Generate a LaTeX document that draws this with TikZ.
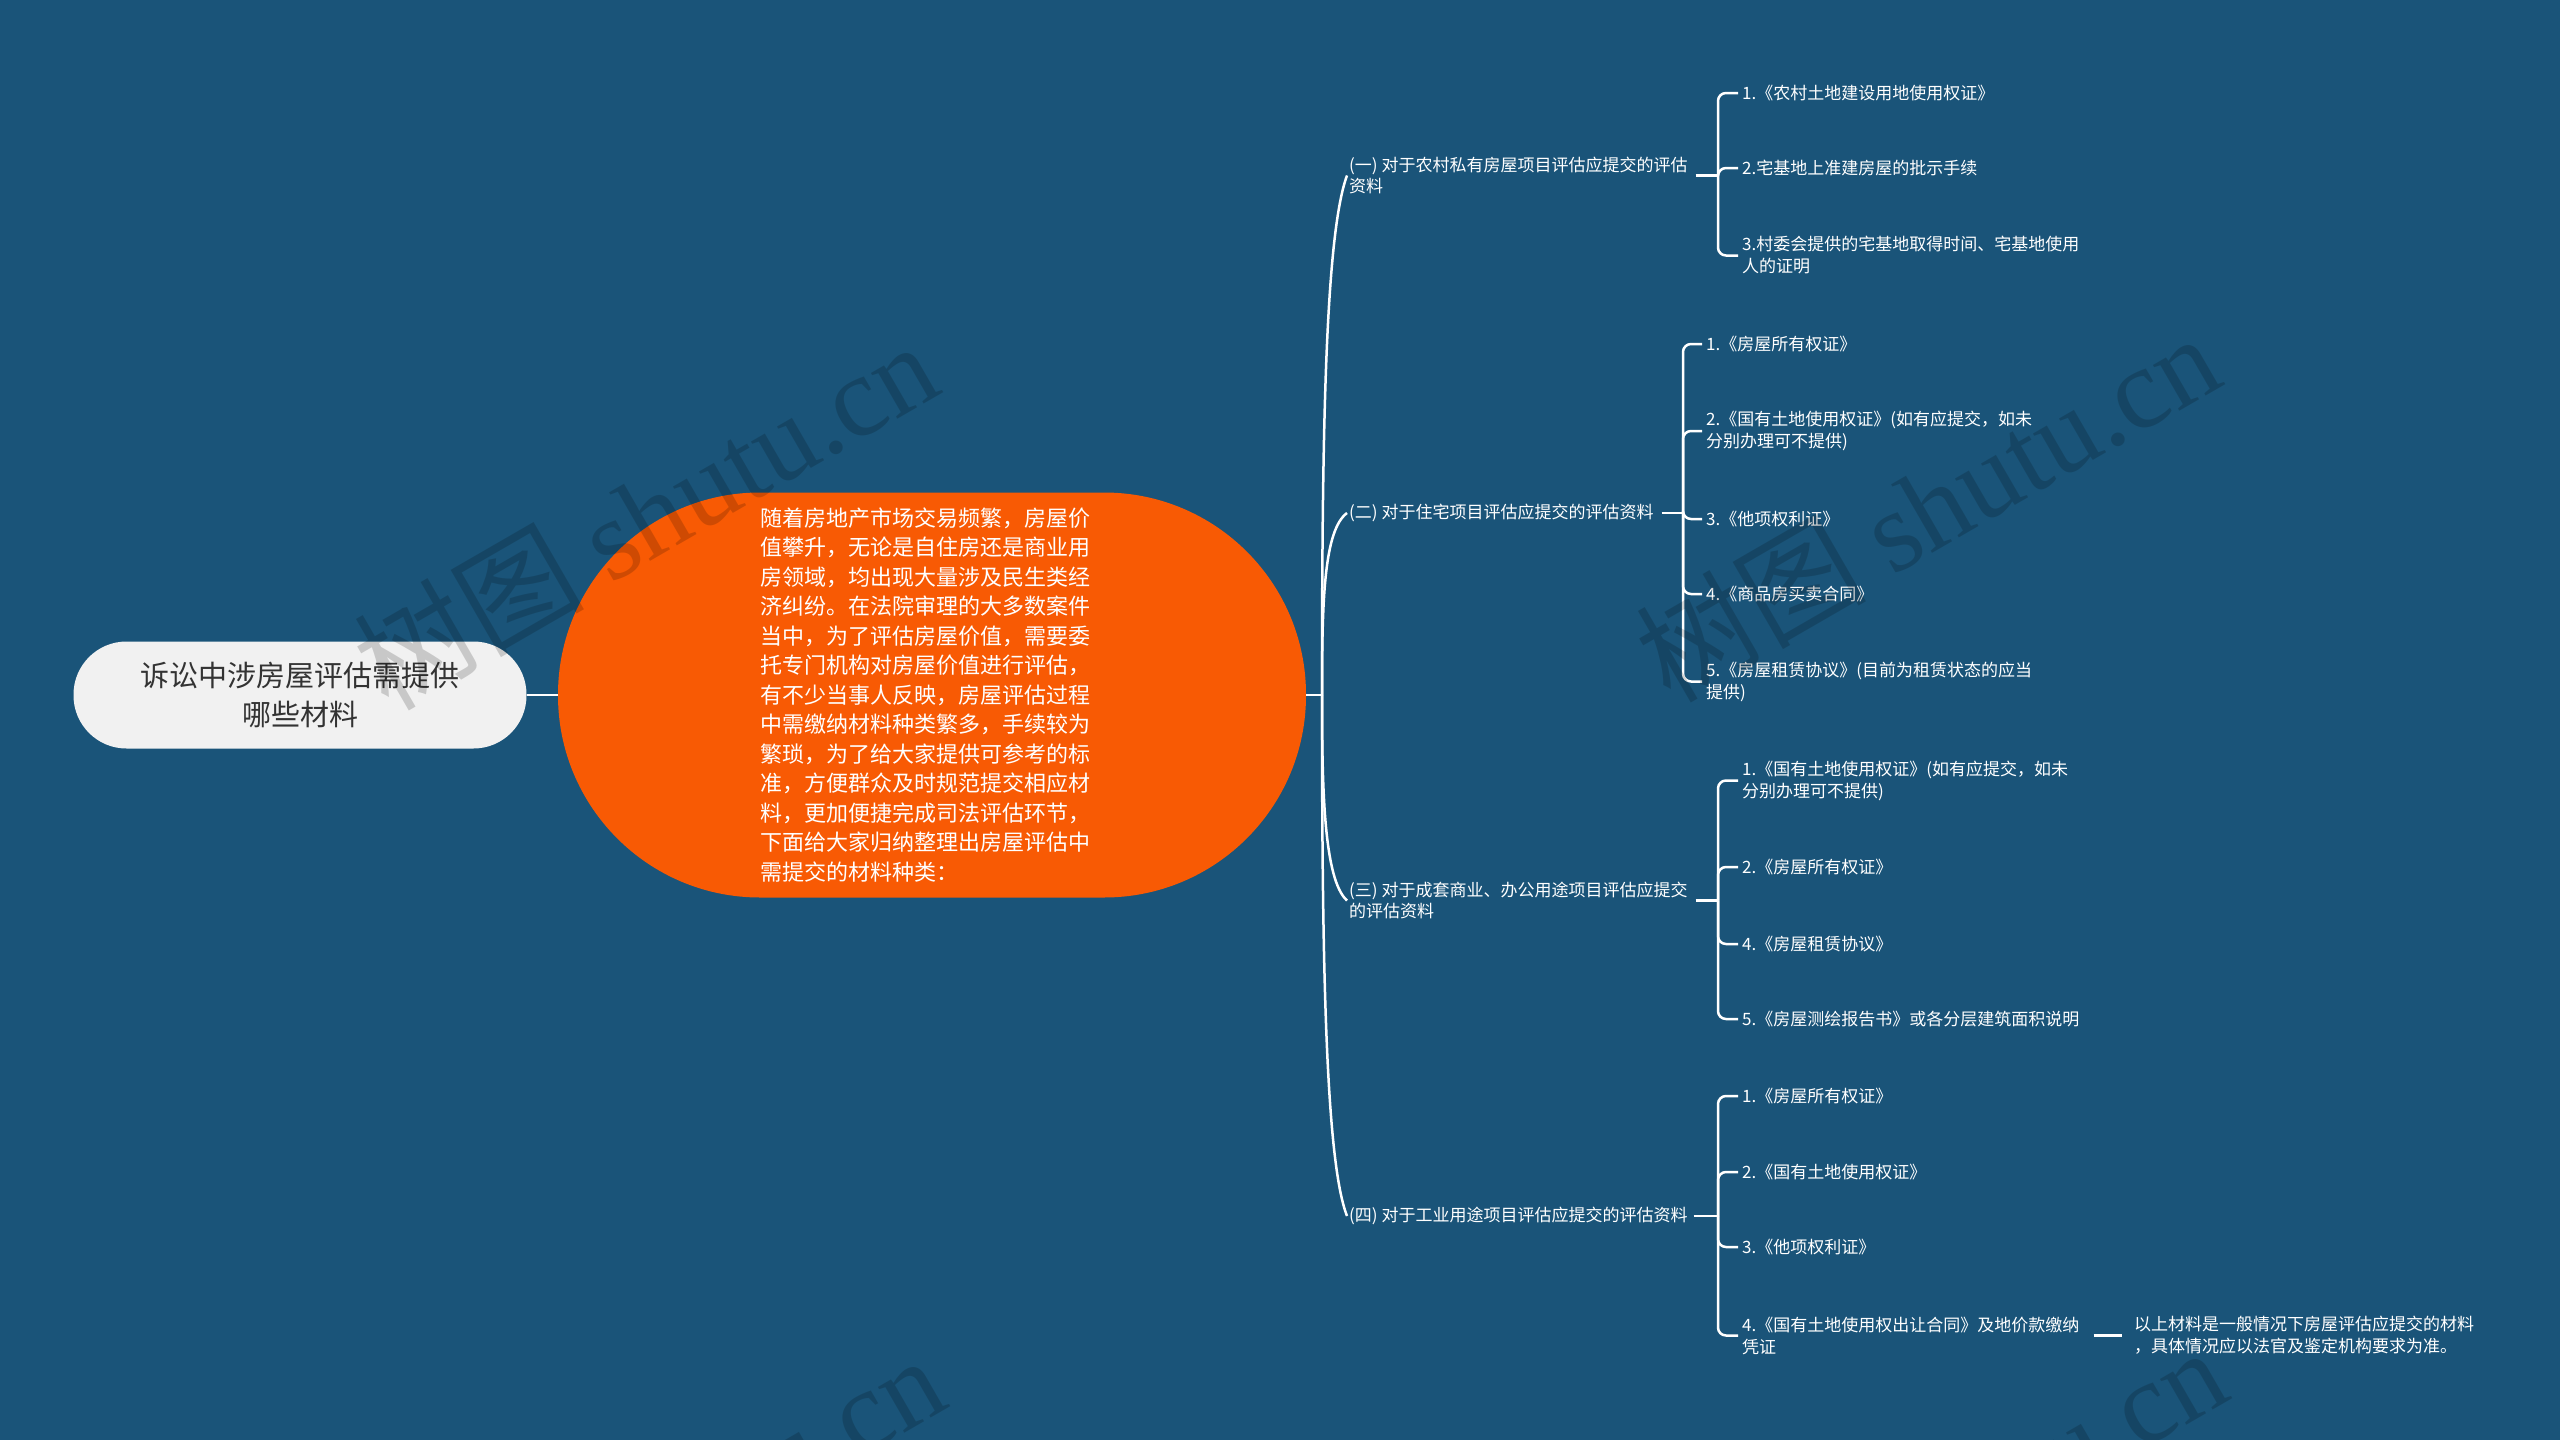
\documentclass[tikz,border=0pt]{standalone}
\usepackage{fontspec}
\setmainfont{Noto Sans CJK SC}
\newfontfamily\wmlatin{Liberation Serif}
\definecolor{bg}{HTML}{1A5479}
\definecolor{orng}{HTML}{F85A04}
\definecolor{rootfill}{HTML}{F1F1F1}
\definecolor{roottext}{HTML}{333333}
\begin{document}
\begin{tikzpicture}[x=1pt,y=-1pt,
  rootbox/.style={fill=rootfill, rounded corners=53pt, minimum width=453pt, minimum height=107pt,
    text=roottext, font=\fontsize{29}{39}\selectfont, align=center, inner sep=0pt},
  centerbox/.style={fill=orng, rounded corners=202pt, minimum width=748pt, minimum height=405pt,
    text=white, font=\fontsize{22}{29.5}\selectfont, align=left, text width=343pt, inner sep=0pt},
  branchbox/.style={text=white, font=\fontsize{17}{21.5}\selectfont, align=left, inner sep=2pt, anchor=west},
  leafbox/.style={text=white, font=\fontsize{17}{22}\selectfont, align=left, inner xsep=4pt, inner ysep=2pt, anchor=west},
  link/.style={draw=white, line width=2.5pt},
  bracket/.style={draw=white, line width=2.5pt, rounded corners=8pt},
  wm/.style={rotate=30, text=black, opacity=0.17, font=\fontsize{115}{115}\selectfont, inner sep=0pt}
]
\useasboundingbox (0,0) rectangle (2560,1440);
\clip (0,0) rectangle (2560,1440);
\fill[bg] (0,0) rectangle (2560,1440);

% main nodes
\node[rootbox] (root) at (300,695) {诉讼中涉房屋评估需提供\\哪些材料};
\node[centerbox] (c) at (932,695) {随着房地产市场交易频繁，房屋价\\值攀升，无论是自住房还是商业用\\房领域，均出现大量涉及民生类经\\济纠纷。在法院审理的大多数案件\\当中，为了评估房屋价值，需要委\\托专门机构对房屋价值进行评估，\\有不少当事人反映，房屋评估过程\\中需缴纳材料种类繁多，手续较为\\繁琐，为了给大家提供可参考的标\\准，方便群众及时规范提交相应材\\料，更加便捷完成司法评估环节，\\下面给大家归纳整理出房屋评估中\\需提交的材料种类：};

\draw[link] (root.east) -- (c.west);

% branches
\node[branchbox] (b1) at (1347,175.5) {(一) 对于农村私有房屋项目评估应提交的评估\\资料};
\node[branchbox] (b2) at (1347,513) {(二) 对于住宅项目评估应提交的评估资料};
\node[branchbox] (b3) at (1347,900.5) {(三) 对于成套商业、办公用途项目评估应提交\\的评估资料};
\node[branchbox] (b4) at (1347,1216) {(四) 对于工业用途项目评估应提交的评估资料};

\coordinate (sp) at (1322,695);
\draw[link] (c.east) -- (sp);
\draw[link] (sp) .. controls (1322,440) and (1325,235) .. (b1.west);
\draw[link] (sp) .. controls (1322,600) and (1324,530) .. (b2.west);
\draw[link] (sp) .. controls (1322,790) and (1324,880) .. (b3.west);
\draw[link] (sp) .. controls (1322,950) and (1325,1160) .. (b4.west);

% group 1
\node[leafbox] (l11) at (1738,93) {1.《农村土地建设用地使用权证》};
\node[leafbox] (l12) at (1738,168) {2.宅基地上准建房屋的批示手续};
\node[leafbox] (l13) at (1738,255.5) {3.村委会提供的宅基地取得时间、宅基地使用\\人的证明};
\coordinate (k1) at (1718,175.5);
\draw[link, shorten <=6pt] (b1.east |- k1) -- (k1);
\foreach \l in {l11,l12,l13} \draw[bracket] (k1) |- (\l.west);

% group 2
\node[leafbox] (l21) at (1702,344) {1.《房屋所有权证》};
\node[leafbox] (l22) at (1702,431) {2.《国有土地使用权证》(如有应提交，如未\\分别办理可不提供)};
\node[leafbox] (l23) at (1702,519) {3.《他项权利证》};
\node[leafbox] (l24) at (1702,594) {4.《商品房买卖合同》};
\node[leafbox] (l25) at (1702,681.5) {5.《房屋租赁协议》(目前为租赁状态的应当\\提供)};
\coordinate (k2) at (1683,513);
\draw[link, shorten <=6pt] (b2.east) -- (k2);
\foreach \l in {l21,l22,l23,l24,l25} \draw[bracket] (k2) |- (\l.west);

% group 3
\node[leafbox] (l31) at (1738,780.5) {1.《国有土地使用权证》(如有应提交，如未\\分别办理可不提供)};
\node[leafbox] (l32) at (1738,867) {2.《房屋所有权证》};
\node[leafbox] (l33) at (1738,944) {4.《房屋租赁协议》};
\node[leafbox] (l34) at (1738,1019) {5.《房屋测绘报告书》或各分层建筑面积说明};
\coordinate (k3) at (1718,900.5);
\draw[link, shorten <=6pt] (b3.east |- k3) -- (k3);
\foreach \l in {l31,l32,l33,l34} \draw[bracket] (k3) |- (\l.west);

% group 4
\node[leafbox] (l41) at (1738,1096) {1.《房屋所有权证》};
\node[leafbox] (l42) at (1738,1172) {2.《国有土地使用权证》};
\node[leafbox] (l43) at (1738,1247) {3.《他项权利证》};
\node[leafbox] (l44) at (1738,1335.5) {4.《国有土地使用权出让合同》及地价款缴纳\\凭证};
\coordinate (k4) at (1718,1216);
\draw[link, shorten <=4pt] (b4.east) -- (k4);
\foreach \l in {l41,l42,l43,l44} \draw[bracket] (k4) |- (\l.west);

% note
\node[leafbox] (note) at (2130,1335.5) {以上材料是一般情况下房屋评估应提交的材料\\，具体情况应以法官及鉴定机构要求为准。};
\draw[link, shorten <=10pt, shorten >=8pt] (l44.east |- note.west) -- (note.west);

% watermarks
\node[wm] (w1) at (645,514) {树图 {\wmlatin shutu.cn}};
\node[wm] (w2) at (1927,506) {树图 {\wmlatin shutu.cn}};
\node[wm] (w3) at (652,1528) {树图 {\wmlatin shutu.cn}};
\node[wm] (w4) at (1934,1520) {树图 {\wmlatin shutu.cn}};
\end{tikzpicture}
\end{document}
